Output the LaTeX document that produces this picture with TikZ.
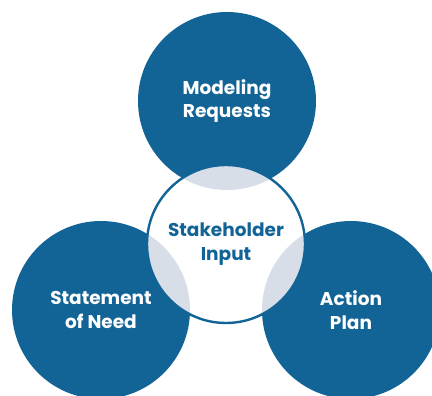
\documentclass[tikz,border=0pt]{standalone}
\usepackage{fontspec}
\setmainfont{Poppins}
\definecolor{deepblue}{HTML}{126496}
\definecolor{lensgray}{HTML}{D8DEE8}

\begin{document}
\begin{tikzpicture}[x=1pt, y=-1pt,
    petal/.style={circle, fill=deepblue, minimum size=178pt, inner sep=0pt,
        text=white, align=center, font=\bfseries\fontsize{18.5}{23.5}\selectfont},
    hub/.style={circle, draw=deepblue, line width=2.4pt, minimum size=158pt, inner sep=0pt,
        text=deepblue, align=center, font=\bfseries\fontsize{18.5}{23.5}\selectfont}]
    \useasboundingbox (0,0) rectangle (432,396);
    \node[petal] (model) at (227,101) {Modeling\\Requests};
    \node[petal] (need) at (101,310) {Statement\\of Need};
    \node[petal] (plan) at (351,310) {Action\\Plan};
    \coordinate (mid) at (226,244);
    \fill[white] (mid) circle[radius=79pt];
    \begin{scope}
        \clip (mid) circle[radius=79pt];
        \foreach \p in {model, need, plan}
            \fill[lensgray] (\p.center) circle[radius=89pt];
    \end{scope}
    \node[hub] (input) at (mid) {Stakeholder\\Input};
\end{tikzpicture}
\end{document}
